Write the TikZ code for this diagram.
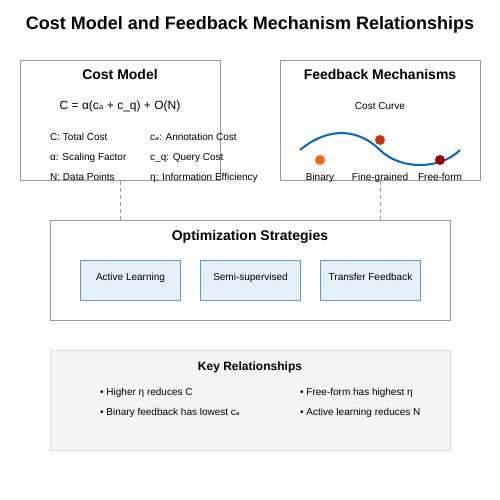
\documentclass[tikz,border=0pt]{standalone}
\usepackage{fontspec}
\setmainfont{Liberation Sans}
\newfontfamily\symfont{DejaVu Sans}
\usepackage{tikz}
\usetikzlibrary{positioning, calc}
\usepackage{xcolor}
\definecolor{framegray}{HTML}{999999}
\definecolor{stratblue}{HTML}{5B9BD5}
\definecolor{stratfill}{HTML}{E6F0FB}
\definecolor{keyfill}{HTML}{F4F4F4}
\definecolor{keyline}{HTML}{DDDDDD}
\definecolor{curveblue}{HTML}{0066CC}
\definecolor{binaryorange}{HTML}{F26B0F}
\definecolor{finered}{HTML}{CC3300}
\definecolor{freedark}{HTML}{990000}
\newcommand{\ca}{c{\symfont ₐ}}

\begin{document}
\begin{tikzpicture}[
    x=1pt, y=-1pt,
    panel/.style={
      draw=framegray, line width=1pt, anchor=north west, inner sep=0pt
    },
    stratbox/.style={
      draw=stratblue, fill=stratfill, line width=1pt, anchor=north west,
      minimum width=100pt, minimum height=40pt, inner sep=0pt
    },
    heading/.style={font=\fontsize{14}{16}\selectfont\bfseries, anchor=base},
    small/.style={font=\fontsize{10}{12}\selectfont, anchor=base, inner sep=0pt},
    legend/.style={small, anchor=base west},
    dot/.style={circle, minimum size=10pt, inner sep=0pt},
    link/.style={draw=framegray, line width=1.5pt, dash pattern=on 4pt off 3pt},
  ]
    \useasboundingbox (0,0) rectangle (500,500);

    % --- Title ---
    \node[font=\fontsize{18}{22}\selectfont\bfseries, anchor=base] (title) at (250,30)
      {Cost Model and Feedback Mechanism Relationships};

    % --- Cost Model ---
    \node[panel, minimum width=200pt, minimum height=120pt] (cost) at (20,60) {};
    \node[heading] (costhead) at (120,80) {Cost Model};
    \node[font=\fontsize{12}{14}\selectfont, anchor=base] (formula) at (120,110)
      {C = α(\ca{} + c\_q) + O(N)};
    \node[legend] (totc)  at (50,140)  {C: Total Cost};
    \node[legend] (alpha) at (50,160)  {α: Scaling Factor};
    \node[legend] (npts)  at (50,180)  {N: Data Points};
    \node[legend] (annc)  at (150,140) {\ca: Annotation Cost};
    \node[legend] (quc)   at (150,160) {c\_q: Query Cost};
    \node[legend] (eta)   at (150,180) {η: Information Efficiency};

    % --- Feedback Mechanisms ---
    \node[panel, minimum width=200pt, minimum height=120pt] (feedback) at (280,60) {};
    \node[heading] (fbhead) at (380,80) {Feedback Mechanisms};
    \node[small] (curvehead) at (380,110) {Cost Curve};
    \draw[curveblue, line width=2pt]
      (300,150) .. controls (330,125) and (360,130) .. (380,150)
                .. controls (400,170) and (440,170) .. (460,150);
    \node[dot, fill=binaryorange] (binary) at (320,160) {};
    \node[dot, fill=finered]      (fine)   at (380,140) {};
    \node[dot, fill=freedark]     (free)   at (440,160) {};
    \node[small] (binlab)  at (320,180) {Binary};
    \node[small] (finelab) at (380,180) {Fine-grained};
    \node[small] (freelab) at (440,180) {Free-form};

    % --- Optimization Strategies ---
    \node[panel, minimum width=400pt, minimum height=100pt] (opt) at (50,220) {};
    \node[heading] (opthead) at (250,240) {Optimization Strategies};
    \node[stratbox] (active)   at (80,260)  {};
    \node[stratbox] (semi)     at (200,260) {};
    \node[stratbox] (transfer) at (320,260) {};
    \node[small] at ($(active.north)+(0,20)$)   {Active Learning};
    \node[small] at ($(semi.north)+(0,20)$)     {Semi-supervised};
    \node[small] at ($(transfer.north)+(0,20)$) {Transfer Feedback};

    % --- Links ---
    \draw[link] (cost.south) -- (cost.south |- opt.north);
    \draw[link] (feedback.south) -- (feedback.south |- opt.north);

    % --- Key Relationships ---
    \node[panel, draw=keyline, fill=keyfill, minimum width=400pt, minimum height=100pt]
      (key) at (50,350) {};
    \node[font=\fontsize{12}{14}\selectfont\bfseries, anchor=base] (keyhead) at (250,370)
      {Key Relationships};
    \node[legend] (rel1) at (100,395) {• Higher η reduces C};
    \node[legend] (rel2) at (100,415) {• Binary feedback has lowest \ca};
    \node[legend] (rel3) at (300,395) {• Free-form has highest η};
    \node[legend] (rel4) at (300,415) {• Active learning reduces N};
\end{tikzpicture}
\end{document}
